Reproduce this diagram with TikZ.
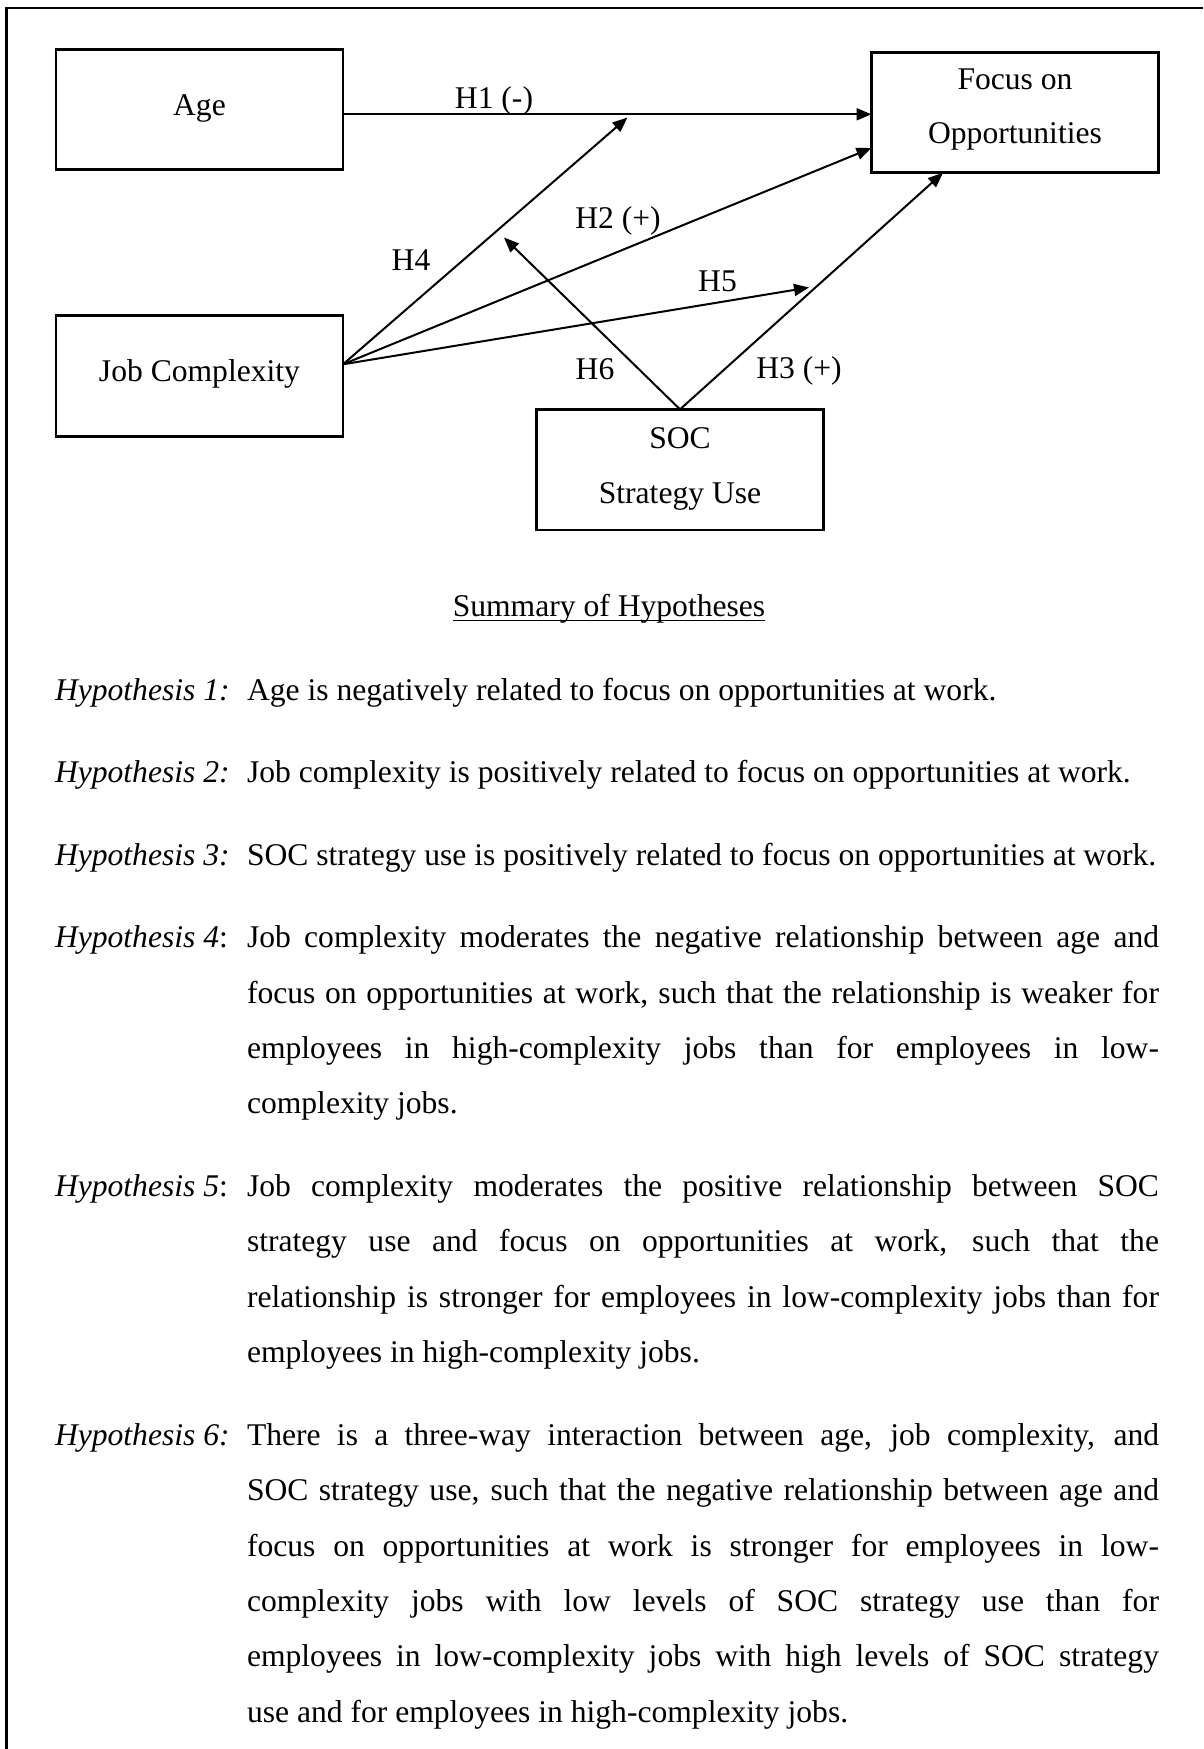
\documentclass[tikz,border=0pt]{standalone}
\usepackage{fontspec}
\setmainfont{Liberation Serif}
\usetikzlibrary{arrows.meta,calc}

% one justified line of the hypothesis text block
\newcommand\jline[1]{\makebox[912pt][s]{#1}}

\begin{document}
\begin{tikzpicture}[x=1pt,y=-1pt,
  every node/.style={inner sep=0pt,outer sep=0pt},
  txt/.style={font=\fontsize{31.6pt}{38pt}\selectfont, anchor=base},
  lbl/.style={txt, anchor=base west},
  box/.style={draw, line width=2.6pt, minimum width=287pt, minimum height=120.5pt},
  arr/.style={line width=2pt, -{Triangle[length=15pt,width=12pt]}},
  frameline/.style={line width=2.2pt},
]
\fill[white] (0,0) rectangle (1203,1749);
\useasboundingbox (0,0) rectangle (1203,1749);

% page frame
\draw[frameline] (1203,7.6) -- (6.5,7.6) -- (6.5,1749);

% construct boxes
\node[box] (age)   at (199.5,109.5) {};
\node[box] (focus) at (1015,112.5)  {};
\node[box] (jc)    at (199.5,376)   {};
\node[box] (soc)   at (680,469.6)   {};

\node[txt] (agetxt)  at (199.5,115)  {Age};
\node[txt] (focustx1) at (1015,89.3) {Focus on};
\node[txt] (focustx2) at (1015,143.5) {Opportunities};
\node[txt] (jctxt)   at (199.5,381)  {Job Complexity};
\node[txt] (soctx1)  at (680,448.2)  {SOC};
\node[txt] (soctx2)  at (680,503)    {Strategy Use};

% connector end points
\coordinate (ageout) at ($(age.east)+(0,4.8)$);
\coordinate (jcout)  at ($(jc.east)+(0,-11.7)$);
\coordinate (socout) at (soc.north);
\coordinate (h2end)  at ($(focus.west)+(0,35.5)$);
\coordinate (h3end)  at ($(focus.south)+(-72,0)$);
\coordinate (h4tip)  at (627.5,117.5);
\coordinate (h5tip)  at (809,287.5);
\coordinate (h6tip)  at (504,237.5);

% paths
\draw[arr] (ageout) -- (ageout -| focus.west);
\draw[arr] (jcout) -- (h4tip);
\draw[arr] (jcout) -- (h2end);
\draw[arr] (jcout) -- (h5tip);
\draw[arr] (socout) -- (h3end);
\draw[arr] (socout) -- (h6tip);

% path labels
\node[txt] (lh1) at (494,108)   {H1 (-)};
\node[txt] (lh2) at (618,228.6) {H2 (+)};
\node[txt] (lh4) at (411,270.7) {H4};
\node[txt] (lh5) at (717.5,291) {H5};
\node[txt] (lh6) at (595,379)   {H6};
\node[txt] (lh3) at (799,378.6) {H3 (+)};

% summary heading
\node[txt] (sum) at (609,616) {Summary of Hypotheses};
\draw[line width=1.6pt] ($(sum.base west)+(0,4.5)$) -- ($(sum.base east)+(0,4.5)$);

% hypotheses
\node[lbl] (p1) at (55,700)   {\textit{Hypothesis 1:}};
\node[lbl] (t1) at (247,700)  {Age is negatively related to focus on opportunities at work.};

\node[lbl] (p2) at (55,782.7) {\textit{Hypothesis 2:}};
\node[lbl] (t2) at (247,782.7) {Job complexity is positively related to focus on opportunities at work.};

\node[lbl] (p3) at (55,865.3) {\textit{Hypothesis 3:}};
\node[lbl] (t3) at (247,865.3) {SOC strategy use is positively related to focus on opportunities at work.};

\node[lbl] (p4) at (55,947.8) {\textit{Hypothesis 4}:};
\node[lbl] (t4a) at (247,947.8)  {\jline{Job complexity moderates the negative relationship between age and}};
\node[lbl] (t4b) at (247,1003.1) {\jline{focus on opportunities at work, such that the relationship is weaker for}};
\node[lbl] (t4c) at (247,1058.4) {\jline{employees in high-complexity jobs than for employees in low-}};
\node[lbl] (t4d) at (247,1113.7) {complexity jobs.};

\node[lbl] (p5) at (55,1196.5) {\textit{Hypothesis 5}:};
\node[lbl] (t5a) at (247,1196.5) {\jline{Job complexity moderates the positive relationship between SOC}};
\node[lbl] (t5b) at (247,1251.8) {\jline{strategy use and focus on opportunities at work, such that the}};
\node[lbl] (t5c) at (247,1307.1) {\jline{relationship is stronger for employees in low-complexity jobs than for}};
\node[lbl] (t5d) at (247,1362.4) {employees in high-complexity jobs.};

\node[lbl] (p6) at (55,1445.6) {\textit{Hypothesis 6:}};
\node[lbl] (t6a) at (247,1445.6) {\jline{There is a three-way interaction between age, job complexity, and}};
\node[lbl] (t6b) at (247,1500.9) {\jline{SOC strategy use, such that the negative relationship between age and}};
\node[lbl] (t6c) at (247,1556.2) {\jline{focus on opportunities at work is stronger for employees in low-}};
\node[lbl] (t6d) at (247,1611.5) {\jline{complexity jobs with low levels of SOC strategy use than for}};
\node[lbl] (t6e) at (247,1666.8) {\jline{employees in low-complexity jobs with high levels of SOC strategy}};
\node[lbl] (t6f) at (247,1722.1) {use and for employees in high-complexity jobs.};
\end{tikzpicture}
\end{document}
